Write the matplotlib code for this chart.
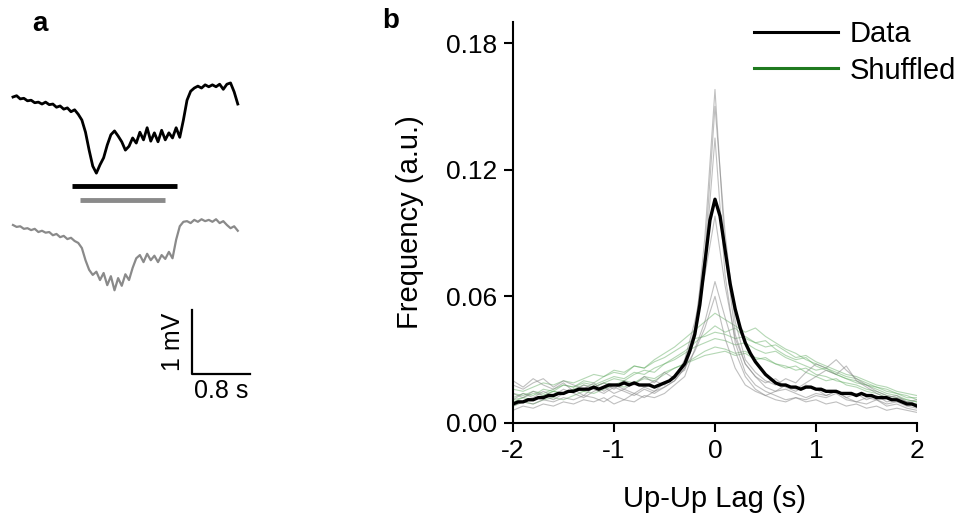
import numpy as np
from matplotlib import pyplot as plt
from matplotlib.lines import Line2D

plt.rcParams['font.family'] = ['Liberation Sans', 'DejaVu Sans']

# ---- panel a: example membrane potential traces (mV), sampled every 0.05 s
trace_t = np.round(np.arange(63) * 0.05, 2)
trace_black = [0.00, 0.02, -0.03, -0.02, -0.06, -0.05, -0.09, -0.08, -0.11, -0.08,
               -0.12, -0.11, -0.16, -0.14, -0.19, -0.17, -0.23, -0.20, -0.27, -0.36,
               -0.55, -0.83, -1.08, -1.19, -1.06, -0.95, -0.75, -0.59, -0.53, -0.61,
               -0.70, -0.83, -0.77, -0.64, -0.72, -0.55, -0.67, -0.48, -0.69, -0.56,
               -0.70, -0.52, -0.67, -0.56, -0.64, -0.48, -0.63, -0.36, -0.05, 0.09,
               0.14, 0.17, 0.14, 0.19, 0.16, 0.19, 0.16, 0.20, 0.12, 0.20,
               0.22, 0.08, -0.11]
trace_grey = [0.00, -0.03, -0.02, -0.06, -0.05, -0.08, -0.06, -0.11, -0.09, -0.12,
              -0.11, -0.16, -0.14, -0.19, -0.17, -0.22, -0.20, -0.25, -0.28, -0.36,
              -0.55, -0.70, -0.78, -0.73, -0.86, -0.75, -0.94, -0.80, -1.02, -0.83,
              -0.95, -0.77, -0.86, -0.67, -0.52, -0.47, -0.58, -0.45, -0.55, -0.48,
              -0.58, -0.47, -0.53, -0.42, -0.52, -0.23, -0.02, 0.05, 0.06, 0.03,
              0.08, 0.05, 0.09, 0.06, 0.08, 0.05, 0.09, 0.03, 0.06, 0.00,
              -0.05, -0.02, -0.09]
trace_gap = -2.0
up_black = (0.81, 2.26)
up_grey = (0.92, 2.10)

# ---- panel b: up-up lag histograms
lag = np.round(np.linspace(-2, 2, 41), 2)
lag_fine = np.round(np.linspace(-2, 2, 81), 2)

data_mean = [0.009, 0.010, 0.010, 0.011, 0.011, 0.012, 0.012, 0.013, 0.013, 0.014,
             0.014, 0.015, 0.015, 0.016, 0.016, 0.016, 0.017, 0.016, 0.017, 0.018,
             0.018, 0.018, 0.019, 0.018, 0.019, 0.018, 0.018, 0.018, 0.017, 0.018,
             0.019, 0.020, 0.022, 0.025, 0.028, 0.034, 0.042, 0.056, 0.076, 0.096,
             0.106, 0.098, 0.082, 0.066, 0.054, 0.045, 0.038, 0.033, 0.029, 0.026,
             0.023, 0.021, 0.019, 0.018, 0.018, 0.017, 0.017, 0.016, 0.017, 0.017,
             0.016, 0.016, 0.015, 0.015, 0.015, 0.014, 0.014, 0.014, 0.013, 0.014,
             0.013, 0.013, 0.012, 0.012, 0.012, 0.011, 0.011, 0.010, 0.009, 0.009,
             0.008]

data_cells = [
    [0.011, 0.014, 0.012, 0.015, 0.013, 0.016, 0.014, 0.012, 0.015, 0.017, 0.014,
     0.016, 0.019, 0.017, 0.020, 0.018, 0.022, 0.025, 0.040, 0.088, 0.158, 0.082,
     0.042, 0.028, 0.022, 0.019, 0.021, 0.017, 0.015, 0.018, 0.016, 0.013, 0.015,
     0.012, 0.014, 0.011, 0.013, 0.010, 0.011, 0.009, 0.008],
    [0.018, 0.016, 0.019, 0.021, 0.017, 0.020, 0.018, 0.016, 0.019, 0.015, 0.018,
     0.016, 0.014, 0.017, 0.015, 0.019, 0.021, 0.028, 0.045, 0.080, 0.150, 0.090,
     0.048, 0.030, 0.024, 0.020, 0.018, 0.021, 0.019, 0.024, 0.028, 0.026, 0.030,
     0.025, 0.021, 0.018, 0.015, 0.013, 0.012, 0.010, 0.009],
    [0.008, 0.010, 0.009, 0.011, 0.010, 0.012, 0.011, 0.013, 0.012, 0.010, 0.013,
     0.011, 0.014, 0.012, 0.015, 0.017, 0.020, 0.026, 0.042, 0.075, 0.135, 0.070,
     0.038, 0.024, 0.018, 0.015, 0.013, 0.011, 0.012, 0.010, 0.011, 0.009, 0.010,
     0.008, 0.009, 0.007, 0.008, 0.006, 0.007, 0.006, 0.005],
    [0.014, 0.012, 0.015, 0.013, 0.011, 0.014, 0.016, 0.013, 0.017, 0.019, 0.016,
     0.020, 0.018, 0.022, 0.019, 0.024, 0.021, 0.030, 0.048, 0.070, 0.098, 0.065,
     0.040, 0.028, 0.022, 0.017, 0.015, 0.016, 0.014, 0.012, 0.014, 0.013, 0.015,
     0.012, 0.010, 0.012, 0.011, 0.009, 0.010, 0.008, 0.007],
    [0.006, 0.008, 0.007, 0.009, 0.008, 0.010, 0.009, 0.011, 0.010, 0.012, 0.009,
     0.011, 0.010, 0.013, 0.012, 0.014, 0.018, 0.022, 0.035, 0.048, 0.067, 0.050,
     0.034, 0.022, 0.016, 0.013, 0.011, 0.010, 0.012, 0.011, 0.013, 0.012, 0.014,
     0.011, 0.010, 0.009, 0.011, 0.008, 0.009, 0.007, 0.006],
    [0.020, 0.017, 0.021, 0.018, 0.016, 0.019, 0.015, 0.018, 0.016, 0.014, 0.017,
     0.015, 0.013, 0.016, 0.014, 0.017, 0.020, 0.026, 0.034, 0.045, 0.060, 0.040,
     0.026, 0.018, 0.015, 0.013, 0.015, 0.018, 0.016, 0.019, 0.022, 0.025, 0.023,
     0.027, 0.020, 0.017, 0.014, 0.012, 0.013, 0.010, 0.011],
]

shuffled_cells = [
    [0.012, 0.014, 0.013, 0.016, 0.015, 0.018, 0.017, 0.020, 0.019, 0.022, 0.024,
     0.023, 0.027, 0.026, 0.030, 0.033, 0.036, 0.040, 0.044, 0.048, 0.052, 0.049,
     0.046, 0.043, 0.045, 0.041, 0.038, 0.035, 0.033, 0.030, 0.028, 0.026, 0.024,
     0.022, 0.021, 0.019, 0.017, 0.016, 0.014, 0.013, 0.011],
    [0.010, 0.012, 0.011, 0.013, 0.015, 0.014, 0.016, 0.018, 0.017, 0.019, 0.021,
     0.020, 0.023, 0.025, 0.024, 0.028, 0.031, 0.034, 0.038, 0.042, 0.046, 0.043,
     0.045, 0.040, 0.038, 0.039, 0.035, 0.032, 0.030, 0.031, 0.027, 0.025, 0.023,
     0.021, 0.019, 0.018, 0.016, 0.014, 0.013, 0.011, 0.010],
    [0.014, 0.013, 0.015, 0.014, 0.016, 0.018, 0.017, 0.019, 0.018, 0.020, 0.022,
     0.021, 0.024, 0.023, 0.026, 0.028, 0.030, 0.033, 0.036, 0.038, 0.040, 0.039,
     0.037, 0.038, 0.035, 0.033, 0.034, 0.031, 0.029, 0.027, 0.025, 0.026, 0.023,
     0.021, 0.020, 0.018, 0.017, 0.015, 0.014, 0.012, 0.012],
    [0.008, 0.010, 0.009, 0.011, 0.012, 0.011, 0.013, 0.015, 0.014, 0.016, 0.018,
     0.017, 0.019, 0.021, 0.020, 0.023, 0.026, 0.028, 0.031, 0.034, 0.036, 0.035,
     0.033, 0.034, 0.031, 0.030, 0.028, 0.026, 0.027, 0.024, 0.022, 0.020, 0.021,
     0.018, 0.017, 0.015, 0.014, 0.012, 0.011, 0.010, 0.009],
    [0.016, 0.015, 0.017, 0.019, 0.018, 0.020, 0.019, 0.021, 0.023, 0.022, 0.025,
     0.024, 0.027, 0.026, 0.029, 0.031, 0.034, 0.037, 0.040, 0.041, 0.043, 0.042,
     0.040, 0.041, 0.038, 0.036, 0.037, 0.034, 0.031, 0.032, 0.029, 0.027, 0.025,
     0.023, 0.022, 0.020, 0.018, 0.017, 0.015, 0.014, 0.013],
    [0.011, 0.012, 0.014, 0.013, 0.015, 0.014, 0.016, 0.015, 0.017, 0.019, 0.018,
     0.020, 0.019, 0.022, 0.021, 0.024, 0.026, 0.028, 0.030, 0.032, 0.033, 0.034,
     0.032, 0.033, 0.030, 0.031, 0.028, 0.027, 0.025, 0.026, 0.023, 0.022, 0.020,
     0.019, 0.018, 0.016, 0.015, 0.013, 0.012, 0.011, 0.010],
]

yticks = [0.00, 0.06, 0.12, 0.18]
xticks = [-2, -1, 0, 1, 2]

fig = plt.figure(figsize=(9.61, 5.25), dpi=100)

# panel a
axa = fig.add_axes([0.0, 0.2, 0.2706, 0.6857])
axa.plot(trace_t, trace_black, color="black", lw=2.0)
axa.plot(trace_t, np.array(trace_grey) + trace_gap, color="#8a8a8a", lw=1.6)
axa.plot(up_black, [-1.39, -1.39], color="black", lw=3.5, solid_capstyle="butt")
axa.plot(up_grey, [-1.61, -1.61], color="#8a8a8a", lw=3.5, solid_capstyle="butt")
# scale bar: 0.8 s x 1 mV
axa.plot([2.47, 2.47, 3.27], [-3.33, -4.33, -4.33], color="black", lw=1.6)
axa.text(2.20, -3.83, "1 mV", rotation=90, ha="center", va="center", fontsize=18)
axa.text(2.87, -4.40, "0.8 s", ha="center", va="top", fontsize=18)
axa.set_xlim(-0.179, 3.407)
axa.set_ylim(-5.047, 0.578)
axa.axis("off")

# panel b
ax = fig.add_axes([0.5338, 0.1943, 0.4204, 0.764])
for cell in shuffled_cells:
    ax.plot(lag, cell, color="#5aa85a", lw=0.8, alpha=0.45)
for cell in data_cells:
    ax.plot(lag, cell, color="#808080", lw=0.8, alpha=0.5)
ax.plot(lag_fine, data_mean, color="black", lw=2.4)
ax.set_xlim(-2, 2)
ax.set_ylim(0, 0.19)
ax.set_xticks(xticks)
ax.set_xticklabels([str(v) for v in xticks])
ax.set_yticks(yticks)
ax.set_yticklabels(["{:.2f}".format(v) for v in yticks])
ax.spines["top"].set_visible(False)
ax.spines["right"].set_visible(False)
for s in ["left", "bottom"]:
    ax.spines[s].set_linewidth(1.5)
ax.tick_params(direction="out", length=6.5, width=1.5, labelsize=19, pad=5)
ax.set_xlabel("Up-Up Lag (s)", fontsize=21, labelpad=16)
ax.set_ylabel("Frequency (a.u.)", fontsize=21, labelpad=16)

handles = [Line2D([], [], color="black", lw=2.2),
           Line2D([], [], color="#1f7a1f", lw=2.2)]
ax.legend(handles, ["Data", "Shuffled"], loc="upper right",
          bbox_to_anchor=(0.995, 0.962), bbox_transform=fig.transFigure,
          frameon=False, fontsize=21, handlelength=2.9, handletextpad=0.4,
          labelspacing=0.3, borderpad=0, borderaxespad=0)

fig.text(0.034, 0.955, "a", fontsize=20, fontweight="bold", ha="left", va="center")
fig.text(0.398, 0.96, "b", fontsize=20, fontweight="bold", ha="left", va="center")

plt.savefig("out.png", dpi=100)
